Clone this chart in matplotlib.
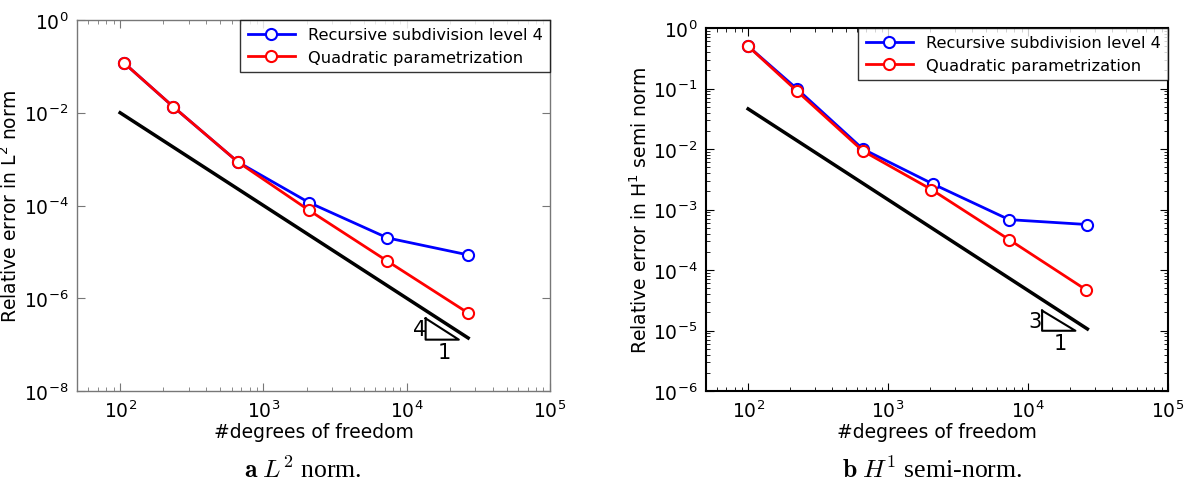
import numpy as np
import matplotlib
matplotlib.use("Agg")
import matplotlib.pyplot as plt
from matplotlib.ticker import LogLocator, NullLocator

plt.rcParams['font.family'] = ['DejaVu Sans']
plt.rcParams['mathtext.fontset'] = 'cm'

# Datos panel (a): norma L2
dof_l2_rec = [106, 234, 663, 2078, 7340, 26850]
err_l2_rec = [0.12, 1.36e-2, 8.7e-4, 1.16e-4, 2.0e-5, 8.6e-6]
dof_l2_quad = [106, 234, 663, 2078, 7340, 26850]
err_l2_quad = [0.12, 1.36e-2, 8.7e-4, 7.9e-5, 6.3e-6, 4.8e-7]
ref_l2_x = [100, 26850]
ref_l2_y = [1e-2, 1.39e-7]

# Datos panel (b): seminorma H1
dof_h1_rec = [100, 223, 660, 2106, 7320, 26550]
err_h1_rec = [0.50, 0.099, 1.0e-2, 2.62e-3, 6.8e-4, 5.64e-4]
dof_h1_quad = [100, 223, 660, 2040, 7320, 26070]
err_h1_quad = [0.50, 0.091, 9.3e-3, 2.14e-3, 3.18e-4, 4.68e-5]
ref_h1_x = [100, 26550]
ref_h1_y = [4.6e-2, 1.06e-5]

# Triangulos de pendiente
tri_l2_x = [13550, 13550, 23100, 13550]
tri_l2_y = [3.68e-7, 1.28e-7, 1.28e-7, 3.68e-7]
tri_h1_x = [12600, 12600, 21800, 12600]
tri_h1_y = [2.13e-5, 9.9e-6, 9.9e-6, 2.13e-5]

names = ["Recursive subdivision level 4", "Quadratic parametrization"]

fig = plt.figure(figsize=(11.87, 4.89), dpi=100)
W, H = 1187., 489.
ax1 = fig.add_axes([77 / W, 1 - 392 / H, (550 - 77) / W, (392 - 21) / H])
ax2 = fig.add_axes([706 / W, 1 - 392 / H, (1168 - 706) / W, (392 - 29) / H])


def style(ax, ylim, ystep, yminor, frame_lw, frame_col):
    ax.set_xscale('log')
    ax.set_yscale('log')
    ax.set_xlim(50, 1e5)
    ax.set_ylim(*ylim)
    ax.set_xticks([1e2, 1e3, 1e4, 1e5])
    ax.set_xticklabels([r'$\mathregular{10^{%d}}$' % k for k in range(2, 6)])
    exps = np.arange(int(np.log10(ylim[0])), 1, ystep)
    ax.set_yticks([10.0 ** e for e in exps])
    ax.set_yticklabels([r'$\mathregular{10^{%d}}$' % e for e in exps])
    ax.xaxis.set_minor_locator(LogLocator(base=10, subs=np.arange(2, 10)))
    if yminor:
        ax.yaxis.set_minor_locator(LogLocator(base=10, subs=np.arange(2, 10)))
    else:
        ax.yaxis.set_minor_locator(NullLocator())
    ax.tick_params(which='both', direction='in', top=True, right=True,
                   labelsize=13.5, pad=6, color=frame_col)
    ax.tick_params(which='major', length=6, width=0.8)
    ax.tick_params(which='minor', length=3, width=0.6)
    for s in ax.spines.values():
        s.set_linewidth(frame_lw)
        s.set_edgecolor(frame_col)
    ax.set_xlabel('#degrees of freedom', fontsize=13.5, labelpad=1)


for ax, dr, er, dq, eq, rx, ry, tx, ty in [
        (ax1, dof_l2_rec, err_l2_rec, dof_l2_quad, err_l2_quad, ref_l2_x, ref_l2_y, tri_l2_x, tri_l2_y),
        (ax2, dof_h1_rec, err_h1_rec, dof_h1_quad, err_h1_quad, ref_h1_x, ref_h1_y, tri_h1_x, tri_h1_y)]:
    ax.plot(dr, er, '-o', color='blue', lw=2, ms=8, mfc='white', mec='blue', mew=1.5, label=names[0])
    ax.plot(dq, eq, '-o', color='red', lw=2, ms=8, mfc='white', mec='red', mew=1.5, label=names[1])
    ax.plot(rx, ry, '-', color='black', lw=2.5)
    ax.plot(tx, ty, '-', color='black', lw=1.5)
    leg = ax.legend(loc='upper right', borderaxespad=0, fontsize=11.7, fancybox=False,
                    handlelength=2.9, handletextpad=0.8, borderpad=0.45, labelspacing=0.45)
    leg.get_frame().set_edgecolor('black')
    leg.get_frame().set_linewidth(1.0)

style(ax1, (1e-8, 1), 2, False, 1.0, '#777777')
style(ax2, (1e-6, 1), 1, True, 1.5, 'black')

ax1.set_ylabel(r'Relative error in $\mathregular{L^2}$ norm', fontsize=13.5)
ax2.set_ylabel(r'Relative error in $\mathregular{H^1}$ semi norm', fontsize=13.5)
ax1.yaxis.set_label_coords((21 - 77) / 473, 0.5)
ax2.yaxis.set_label_coords((651 - 706) / 462, 0.5)

ax1.text(12300, 2.2e-7, '4', fontsize=15, ha='center', va='center')
ax1.text(18300, 7.0e-8, '1', fontsize=15, ha='center', va='center')
ax2.text(11200, 1.45e-5, '3', fontsize=15, ha='center', va='center')
ax2.text(17000, 6.2e-6, '1', fontsize=15, ha='center', va='center')

fig.text(303 / W, 1 - 470 / H, r'$\mathbf{a}$ $L^2$ norm.', fontsize=18.5,
         family='Liberation Serif', ha='center', va='center')
fig.text(932 / W, 1 - 470 / H, r'$\mathbf{b}$ $H^1$ semi-norm.', fontsize=18.5,
         family='Liberation Serif', ha='center', va='center')

fig.savefig('out.png', dpi=100)
